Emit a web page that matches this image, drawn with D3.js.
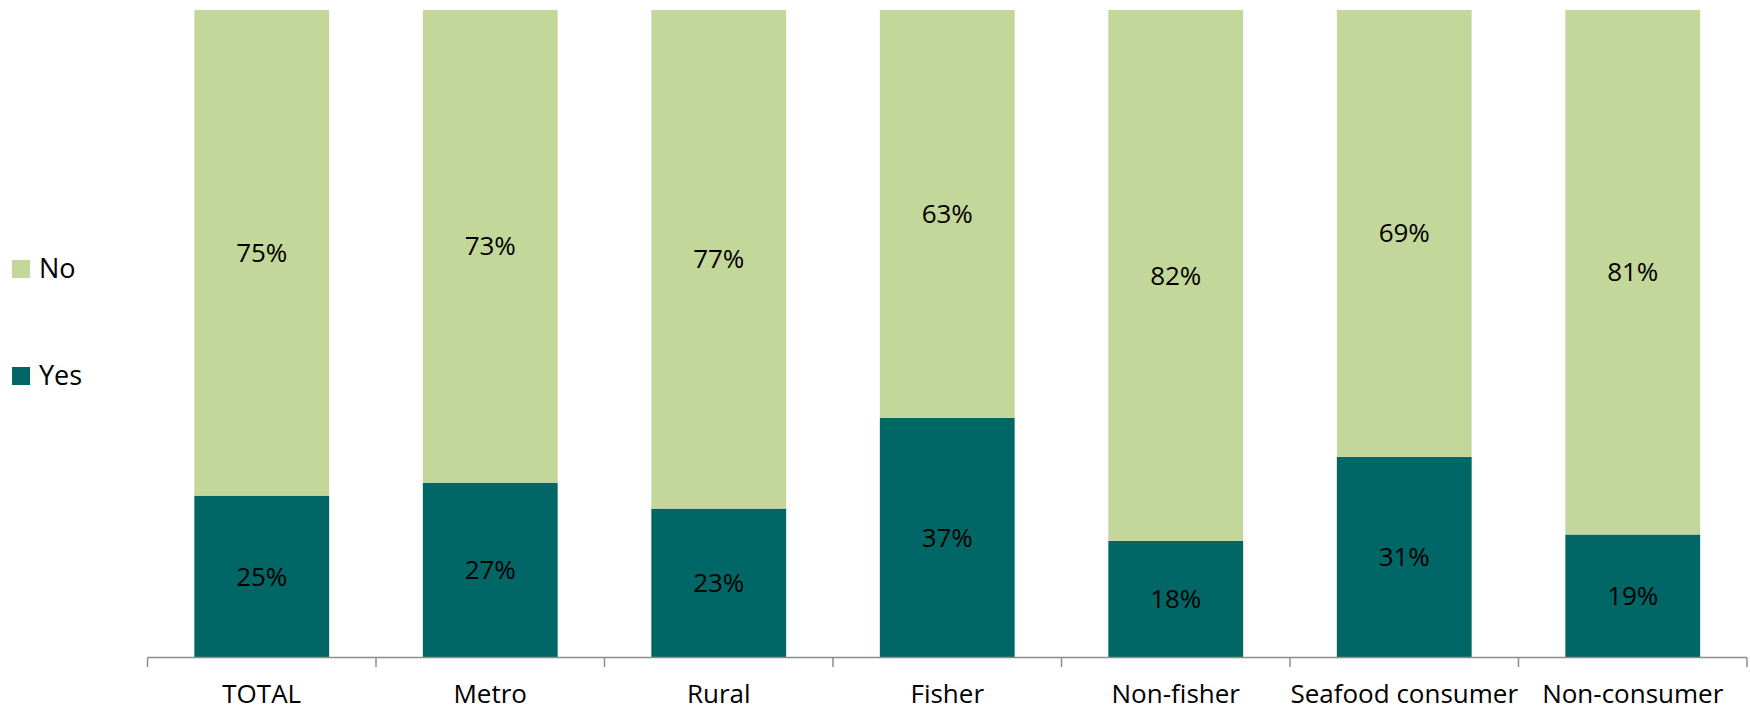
<!DOCTYPE html>
<html>
<head>
<meta charset="utf-8">
<script src="https://cdn.jsdelivr.net/npm/d3@7"></script>
<style>
  html, body { margin: 0; padding: 0; background: #ffffff; }
</style>
</head>
<body>
<script>
const categories = ['TOTAL', 'Metro', 'Rural', 'Fisher', 'Non-fisher', 'Seafood consumer', 'Non-consumer'];
const yesValues = [25, 27, 23, 37, 18, 31, 19];
const noValues = [75, 73, 77, 63, 82, 69, 81];
const seriesNames = ['Yes', 'No'];
const seriesColors = ['#006766', '#c4d79b'];

const width = 1750, height = 713;
const font = '"Open Sans", sans-serif';

const svg = d3.select('body').append('svg')
  .attr('width', width)
  .attr('height', height);

const rows = categories.map((c, i) => ({ cat: c, Yes: yesValues[i], No: noValues[i] }));
const stack = d3.stack().keys(seriesNames)(rows);

const x = d3.scaleBand()
  .domain(categories)
  .range([147.5, 1747])
  .paddingInner(0.41)
  .paddingOuter(0.205);

const y = d3.scaleLinear()
  .domain([0, 100])
  .range([657.5, 10]);

const color = d3.scaleOrdinal().domain(seriesNames).range(seriesColors);

// Bars
const layers = svg.append('g').selectAll('g')
  .data(stack)
  .join('g')
  .attr('fill', d => color(d.key));

layers.selectAll('rect')
  .data(d => d)
  .join('rect')
  .attr('x', d => x(d.data.cat))
  .attr('y', d => y(d[1]))
  .attr('width', x.bandwidth())
  .attr('height', d => y(d[0]) - y(d[1]));

// Value labels
layers.selectAll('text')
  .data(d => d)
  .join('text')
  .attr('x', d => x(d.data.cat) + x.bandwidth() / 2)
  .attr('y', d => (y(d[0]) + y(d[1])) / 2)
  .attr('dy', '0.35em')
  .attr('text-anchor', 'middle')
  .attr('font-family', font)
  .attr('font-size', 26)
  .attr('fill', '#000000')
  .text(d => (d[1] - d[0]) + '%');

// Category axis
const tickPos = categories.map(c => x(c) - x.step() * x.paddingInner() / 2).concat([1747]);
const axis = svg.append('g');
axis.append('line')
  .attr('x1', 147.5).attr('x2', 1747)
  .attr('y1', 657.5).attr('y2', 657.5)
  .attr('stroke', '#8c8c8c').attr('stroke-width', 1.5);
axis.selectAll('line.tick')
  .data(tickPos)
  .join('line')
  .attr('class', 'tick')
  .attr('x1', d => d).attr('x2', d => d)
  .attr('y1', 657.5).attr('y2', 667)
  .attr('stroke', '#8c8c8c').attr('stroke-width', 1.5);
axis.selectAll('text')
  .data(categories)
  .join('text')
  .attr('x', d => x(d) + x.bandwidth() / 2)
  .attr('y', 703)
  .attr('text-anchor', 'middle')
  .attr('font-family', font)
  .attr('font-size', 26)
  .attr('fill', '#000000')
  .text(d => d);

// Legend
const legendItems = [{ key: 'No', y: 260 }, { key: 'Yes', y: 367 }];
const legend = svg.append('g');
legend.selectAll('rect')
  .data(legendItems)
  .join('rect')
  .attr('x', 12).attr('y', d => d.y)
  .attr('width', 18).attr('height', 18)
  .attr('fill', d => color(d.key));
legend.selectAll('text')
  .data(legendItems)
  .join('text')
  .attr('x', 39).attr('y', d => d.y + 18)
  .attr('font-family', font)
  .attr('font-size', 27)
  .attr('fill', '#000000')
  .text(d => d.key);
</script>
</body>
</html>
